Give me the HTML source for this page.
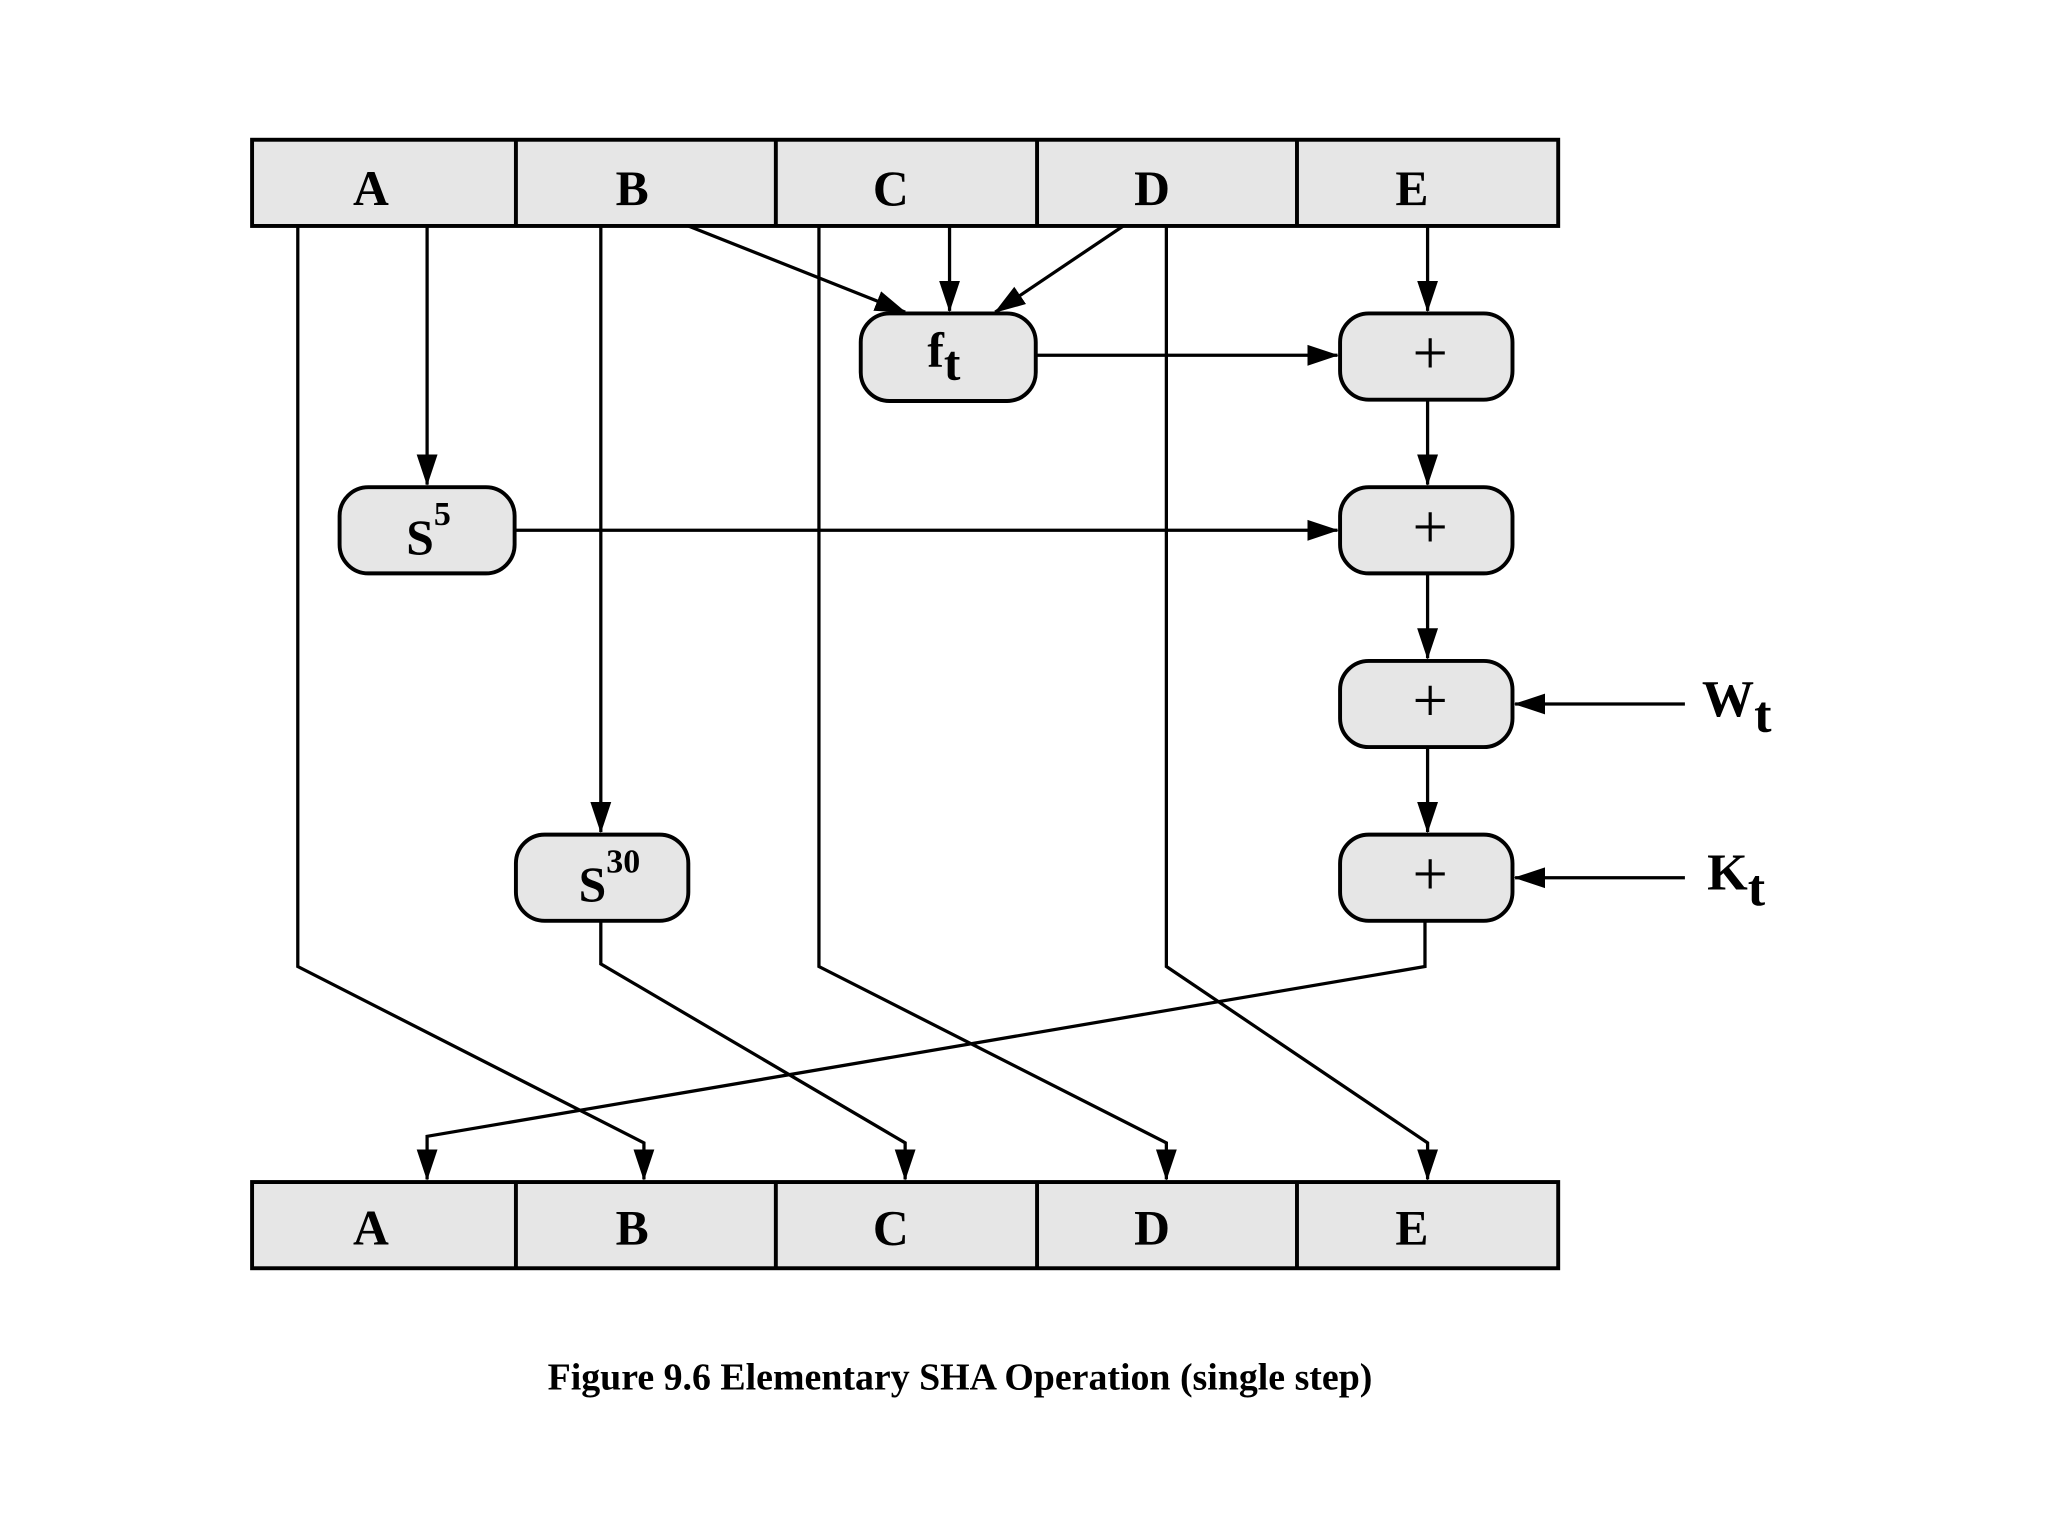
<!DOCTYPE html>
<html><head><meta charset="utf-8"><style>html,body{margin:0;padding:0;background:#fff}svg{display:block}</style></head>
<body>
<svg width="2048" height="1536" viewBox="0 0 1568 1176" xmlns="http://www.w3.org/2000/svg" font-family="'Liberation Serif', serif" font-weight="bold">
<defs>
<marker id="ar" markerWidth="24" markerHeight="18" refX="23" refY="9" orient="auto" markerUnits="userSpaceOnUse">
<path d="M0,1 L24,9 L0,17 Z" fill="#000"/>
</marker>
</defs>
<rect width="1568" height="1176" fill="#fff"/>
<g stroke="#000" stroke-width="3" fill="#e6e6e6">
<rect x="193" y="107" width="1000" height="66"/>
<line x1="395" y1="107" x2="395" y2="173"/><line x1="594" y1="107" x2="594" y2="173"/>
<line x1="794" y1="107" x2="794" y2="173"/><line x1="993" y1="107" x2="993" y2="173"/>
<rect x="193" y="905" width="1000" height="66"/>
<line x1="395" y1="905" x2="395" y2="971"/><line x1="594" y1="905" x2="594" y2="971"/>
<line x1="794" y1="905" x2="794" y2="971"/><line x1="993" y1="905" x2="993" y2="971"/>
<rect x="659" y="240" width="134" height="67" rx="22"/>
<rect x="1026" y="240" width="132" height="66" rx="22"/>
<rect x="1026" y="373" width="132" height="66" rx="22"/>
<rect x="1026" y="506" width="132" height="66" rx="22"/>
<rect x="1026" y="639" width="132" height="66" rx="22"/>
<rect x="260" y="373" width="134" height="66" rx="22"/>
<rect x="395" y="639" width="132" height="66" rx="22"/>
</g>
<g stroke="#000" stroke-width="2.5" fill="none">
<polyline points="228,173 228,740 493,875 493,903" marker-end="url(#ar)"/>
<line x1="327" y1="173" x2="327" y2="371" marker-end="url(#ar)"/>
<line x1="460" y1="173" x2="460" y2="637" marker-end="url(#ar)"/>
<line x1="527" y1="173" x2="693" y2="239" marker-end="url(#ar)"/>
<line x1="727" y1="173" x2="727" y2="238" marker-end="url(#ar)"/>
<line x1="860" y1="173" x2="762" y2="239" marker-end="url(#ar)"/>
<polyline points="627,173 627,740 893,875 893,903" marker-end="url(#ar)"/>
<polyline points="893,173 893,740 1093,875 1093,903" marker-end="url(#ar)"/>
<polyline points="460,705 460,738 693,875 693,903" marker-end="url(#ar)"/>
<polyline points="1091,705 1091,740 327,870 327,903" marker-end="url(#ar)"/>
<line x1="1093" y1="173" x2="1093" y2="238" marker-end="url(#ar)"/>
<line x1="793" y1="272" x2="1024" y2="272" marker-end="url(#ar)"/>
<line x1="394" y1="406" x2="1024" y2="406" marker-end="url(#ar)"/>
<line x1="1093" y1="306" x2="1093" y2="371" marker-end="url(#ar)"/>
<line x1="1093" y1="439" x2="1093" y2="504" marker-end="url(#ar)"/>
<line x1="1093" y1="572" x2="1093" y2="637" marker-end="url(#ar)"/>
<line x1="1290" y1="539" x2="1160" y2="539" marker-end="url(#ar)"/>
<line x1="1290" y1="672" x2="1160" y2="672" marker-end="url(#ar)"/>
</g>
<g font-size="38" text-anchor="middle" fill="#000">
<text x="284" y="157">A</text><text x="484" y="157">B</text><text x="682" y="157">C</text><text x="882" y="157">D</text><text x="1081" y="157">E</text>
<text x="284" y="953">A</text><text x="484" y="953">B</text><text x="682" y="953">C</text><text x="882" y="953">D</text><text x="1081" y="953">E</text>
</g>
<g font-size="48" font-weight="normal" text-anchor="middle" fill="#000">
<text x="1095" y="286">+</text><text x="1095" y="419">+</text><text x="1095" y="552">+</text><text x="1095" y="685">+</text>
</g>
<g fill="#000">
<text x="710" y="281" font-size="38">f<tspan font-size="38" dy="10">t</tspan></text>
<text x="311" y="424" font-size="38">S<tspan font-size="26" dy="-22">5</tspan></text>
<text x="443" y="690" font-size="38">S<tspan font-size="26" dy="-22">30</tspan></text>
<text x="1303" y="548" font-size="40">W<tspan dy="12">t</tspan></text>
<text x="1307" y="681" font-size="40">K<tspan dy="12">t</tspan></text>
<text x="735" y="1064" font-size="29" text-anchor="middle">Figure 9.6   Elementary SHA Operation (single step)</text>
</g>
</svg>
</body></html>
